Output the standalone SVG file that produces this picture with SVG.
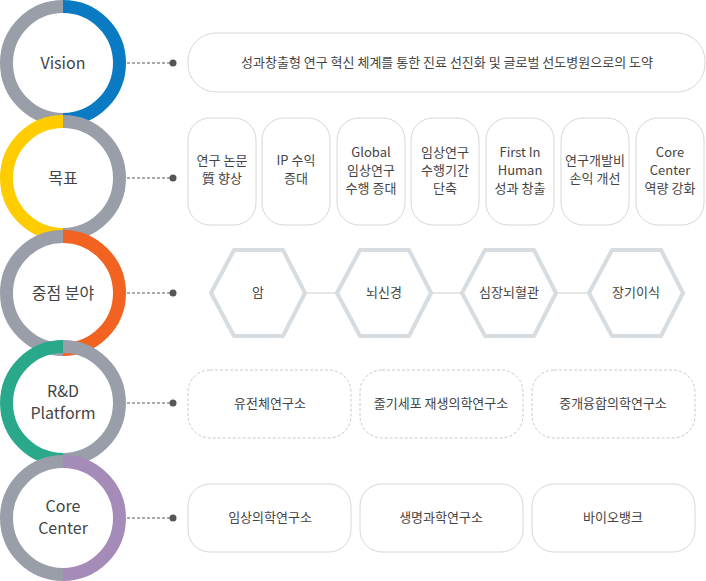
<svg xmlns="http://www.w3.org/2000/svg" width="706" height="581" viewBox="0 0 706 581">
<style>
text{font-family:"Noto Sans CJK KR","Noto Sans",sans-serif;fill:#444;text-anchor:middle}
.lbl{font-size:16px;font-weight:400;fill:#444}
.t{font-size:13px}
.box{fill:#fff;stroke:#d6d6d6;stroke-width:1}
.dbox{fill:#fff;stroke:#c8c8c8;stroke-width:1;stroke-dasharray:3 2}
.hex{fill:#fff;stroke:#d6dcdf;stroke-width:4;stroke-linejoin:round}
.conn{stroke:#555;stroke-width:1;stroke-dasharray:3 2}
.ring{fill:none;stroke-width:13}
</style>
<g id="connectors">
<g fill="#555">
<line class="conn" x1="127" y1="63" x2="173" y2="63"/><circle cx="173" cy="63" r="3.5"/>
<line class="conn" x1="127" y1="178" x2="173" y2="178"/><circle cx="173" cy="178" r="3.5"/>
<line class="conn" x1="127" y1="293" x2="173" y2="293"/><circle cx="173" cy="293" r="3.5"/>
<line class="conn" x1="127" y1="403" x2="173" y2="403"/><circle cx="173" cy="403" r="3.5"/>
<line class="conn" x1="127" y1="518" x2="173" y2="518"/><circle cx="173" cy="518" r="3.5"/>
</g>
<g stroke="#ccc" stroke-width="1">
<line x1="305" y1="293" x2="337" y2="293"/><line x1="431" y1="293" x2="462" y2="293"/><line x1="556" y1="293" x2="589" y2="293"/>
</g>
</g>
<g id="vision">
<path class="ring" stroke="#9a9ea8" d="M63 6.5 A56.5 56.5 0 0 0 63 119.5"/>
<path class="ring" stroke="#0a7bc2" d="M63 6.5 A56.5 56.5 0 0 1 63 119.5"/>
<text class="lbl" x="63" y="69">Vision</text>
</g>
<g id="goal">
<path class="ring" stroke="#ffcc00" d="M63 121.5 A56.5 56.5 0 0 0 63 234.5"/>
<path class="ring" stroke="#9a9ea8" d="M63 121.5 A56.5 56.5 0 0 1 63 234.5"/>
<text class="lbl" x="63" y="184">목표</text>
</g>
<g id="focus">
<path class="ring" stroke="#9a9ea8" d="M63 236.5 A56.5 56.5 0 0 0 63 349.5"/>
<path class="ring" stroke="#f26322" d="M63 236.5 A56.5 56.5 0 0 1 63 349.5"/>
<text class="lbl" x="63" y="299">중점 분야</text>
</g>
<g id="rnd">
<path class="ring" stroke="#2aa88a" d="M63 346.5 A56.5 56.5 0 0 0 63 459.5"/>
<path class="ring" stroke="#9a9ea8" d="M63 346.5 A56.5 56.5 0 0 1 63 459.5"/>
<text class="lbl" x="63" y="397">R&amp;D</text>
<text class="lbl" x="63" y="419">Platform</text>
</g>
<g id="core">
<path class="ring" stroke="#9a9ea8" d="M63 461.5 A56.5 56.5 0 0 0 63 574.5"/>
<path class="ring" stroke="#a58bb8" d="M63 461.5 A56.5 56.5 0 0 1 63 574.5"/>
<text class="lbl" x="63" y="512">Core</text>
<text class="lbl" x="63" y="534">Center</text>
</g>
<g id="vision-box">
<rect class="box" x="188" y="33" width="517" height="59" rx="28"/>
<text class="t" x="447" y="67">성과창출형 연구 혁신 체계를 통한 진료 선진화 및 글로벌 선도병원으로의 도약</text>
</g>
<g id="goals">
<rect class="box" x="188" y="118" width="68" height="107" rx="22"/>
<text class="t" x="222" y="165">연구 논문</text><text class="t" x="222" y="183">質 향상</text>
<rect class="box" x="262" y="118" width="68" height="107" rx="22"/>
<text class="t" x="296" y="165">IP 수익</text><text class="t" x="296" y="183">증대</text>
<rect class="box" x="337" y="118" width="68" height="107" rx="22"/>
<text class="t" x="371" y="157">Global</text><text class="t" x="371" y="175">임상연구</text><text class="t" x="371" y="193">수행 증대</text>
<rect class="box" x="411" y="118" width="68" height="107" rx="22"/>
<text class="t" x="445" y="157">임상연구</text><text class="t" x="445" y="175">수행기간</text><text class="t" x="445" y="193">단축</text>
<rect class="box" x="486" y="118" width="68" height="107" rx="22"/>
<text class="t" x="520" y="157">First In</text><text class="t" x="520" y="175">Human</text><text class="t" x="520" y="193">성과 창출</text>
<rect class="box" x="561" y="118" width="68" height="107" rx="22"/>
<text class="t" x="595" y="165">연구개발비</text><text class="t" x="595" y="183">손익 개선</text>
<rect class="box" x="636" y="118" width="68" height="107" rx="22"/>
<text class="t" x="670" y="157">Core</text><text class="t" x="670" y="175">Center</text><text class="t" x="670" y="193">역량 강화</text>
</g>
<g id="hexes">
<polygon class="hex" points="234,250 283,250 305,293 283,336 234,336 211,293"/>
<text class="t" x="258" y="297">암</text>
<polygon class="hex" points="360,250 409,250 431,293 409,336 360,336 337,293"/>
<text class="t" x="384" y="297">뇌신경</text>
<polygon class="hex" points="485,250 534,250 556,293 534,336 485,336 462,293"/>
<text class="t" x="509" y="297">심장뇌혈관</text>
<polygon class="hex" points="612,250 661,250 683,293 661,336 612,336 589,293"/>
<text class="t" x="636" y="297">장기이식</text>
</g>
<g id="rnd-boxes">
<rect class="dbox" x="188" y="370" width="163" height="68" rx="22"/>
<text class="t" x="270" y="408">유전체연구소</text>
<rect class="dbox" x="360" y="370" width="163" height="68" rx="22"/>
<text class="t" x="441" y="408">줄기세포 재생의학연구소</text>
<rect class="dbox" x="532" y="370" width="163" height="68" rx="22"/>
<text class="t" x="613" y="408">중개융합의학연구소</text>
</g>
<g id="core-boxes">
<rect class="box" x="188" y="484" width="163" height="68" rx="22"/>
<text class="t" x="270" y="522">임상의학연구소</text>
<rect class="box" x="360" y="484" width="163" height="68" rx="22"/>
<text class="t" x="441" y="522">생명과학연구소</text>
<rect class="box" x="532" y="484" width="163" height="68" rx="22"/>
<text class="t" x="613" y="522">바이오뱅크</text>
</g>
</svg>
